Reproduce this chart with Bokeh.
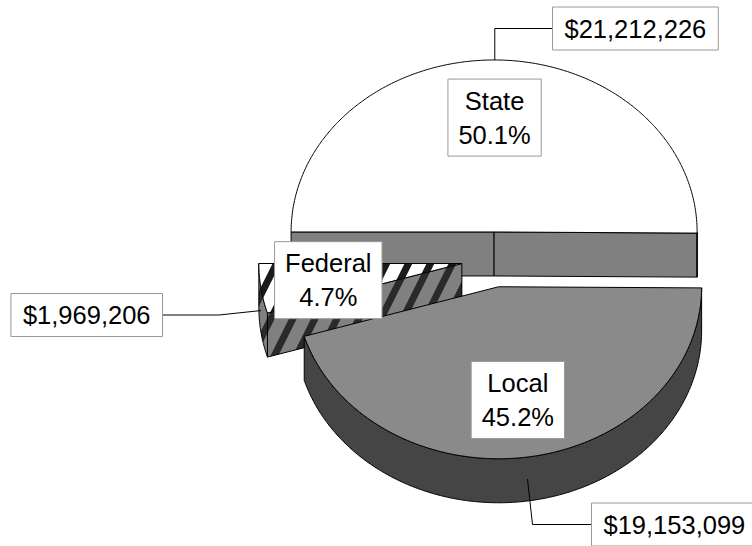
import math
from bokeh.plotting import figure
from bokeh.models import Range1d
from bokeh.embed import file_html
from bokeh.resources import INLINE
from bokeh.core.properties import value

# ---------------- data ----------------
categories = ["State", "Local", "Federal"]
amounts = [21212226, 19153099, 1969206]
amount_labels = ["$21,212,226", "$19,153,099", "$1,969,206"]

# ---------------- layout / style ----------------
W, H = 752, 546
CX, CY = 493.5, 259.0          # pie centre (pixels)
RX, RY = 203.0, 172.0          # ellipse radii of top face
DEPTH = 44.0                   # pie thickness
EXPLODE = 32.5                 # explosion distance
START = 180.0                  # first slice starts at 9 o'clock, clockwise
LABEL_FRAC = 0.665

top_colors = ["#ffffff", "#8a8a8a", "#ffffff"]
side_colors = ["#808080", "#454545", "#808080"]
hatch_on = [False, False, True]

FONT = value("Liberation Sans")
FS = 25.5
LINE_PITCH = 34.0
PAD_X, PAD_Y = 10.5, 9.0

# value label boxes: (x edge, centre y, which edge), leader elbow x-offset
value_box = [(552.0, 28.0, "left"), (591.0, 524.0, "left"), (162.0, 314.5, "right")]
elbow_dx = [0.0, 5.0, -42.0]

CHAR_W = {c: 0.556 for c in "0123456789$"}
CHAR_W.update({",": .278, ".": .278, "%": .889, "S": .667, "t": .278, "a": .556,
               "e": .556, "F": .611, "d": .556, "r": .333, "l": .222, "L": .556,
               "o": .556, "c": .5})


def text_w(s):
    return sum(CHAR_W.get(ch, 0.556) for ch in s) * FS


def pt(cx, cy, a, dy=0.0):
    r = math.radians(a)
    return cx + RX * math.cos(r), cy - RY * math.sin(r) + dy


def arc(cx, cy, a0, a1, dy=0.0):
    n = max(2, int(abs(a0 - a1) / 0.5) + 1)
    out = []
    for i in range(n):
        a = a0 + (a1 - a0) * i / (n - 1)
        out.append(pt(cx, cy, a, dy))
    return out


p = figure(width=W, height=H, output_backend="svg", toolbar_location=None,
           x_range=Range1d(0, W), y_range=Range1d(H, 0), min_border=0,
           x_axis_type=None, y_axis_type=None)
p.grid.visible = False
p.outline_line_color = None
p.background_fill_color = "white"
p.border_fill_color = "white"

total = float(sum(amounts))
shares = [v / total for v in amounts]

slices = []
a = START
for i, s in enumerate(shares):
    a0 = a
    a1 = a - 360.0 * s
    a = a1
    mid = (a0 + a1) / 2.0
    mr = math.radians(mid)
    cx = CX + EXPLODE * math.cos(mr)
    cy = CY - EXPLODE * math.sin(mr) * RY / RX
    slices.append(dict(i=i, a0=a0, a1=a1, mid=mid, cx=cx, cy=cy))

# painter's order: back (smaller y) first
order = sorted(slices, key=lambda d: d["cy"] - RY * math.sin(math.radians(d["mid"])) * 0.5)


def draw_poly(pts, fill, hatch, side):
    xs = [q[0] for q in pts]
    ys = [q[1] for q in pts]
    kw = dict(fill_color=fill, line_color="black", line_width=1)
    if hatch:
        kw.update(hatch_pattern="/", hatch_color="#1a1a1a" if not side else "#2a2a2a",
                  hatch_weight=7, hatch_scale=44)
    p.patch(xs, ys, **kw)


for d in order:
    i = d["i"]
    cx, cy, a0, a1 = d["cx"], d["cy"], d["a0"], d["a1"]
    # radial cut faces
    if math.cos(math.radians(a0)) < 0:
        e = pt(cx, cy, a0)
        draw_poly([(cx, cy), e, (e[0], e[1] + DEPTH), (cx, cy + DEPTH)],
                  side_colors[i], hatch_on[i], True)
    if math.cos(math.radians(a1)) > 0:
        e = pt(cx, cy, a1)
        draw_poly([(cx, cy), e, (e[0], e[1] + DEPTH), (cx, cy + DEPTH)],
                  side_colors[i], hatch_on[i], True)
    # outer rim (lower half only)
    lo, hi = max(a1, -180.0), min(a0, 0.0)
    if hi - lo > 0.05:
        upper = arc(cx, cy, hi, lo)
        lower = arc(cx, cy, lo, hi, DEPTH)
        draw_poly(upper + lower, side_colors[i], hatch_on[i], True)
    # top face
    draw_poly([(cx, cy)] + arc(cx, cy, a0, a1), top_colors[i], hatch_on[i], False)

# ---------------- category / percent labels ----------------
bx_l, bx_r, bx_t, bx_b = [], [], [], []
tx, ty, tt = [], [], []
for d in slices:
    i = d["i"]
    mr = math.radians(d["mid"])
    lx = d["cx"] + LABEL_FRAC * RX * math.cos(mr)
    ly = d["cy"] - LABEL_FRAC * RY * math.sin(mr)
    lines = [categories[i], f"{shares[i] * 100:.1f}%"]
    w = max(text_w(s) for s in lines) + 2 * PAD_X
    h = len(lines) * LINE_PITCH + PAD_Y
    bx_l.append(lx - w / 2); bx_r.append(lx + w / 2)
    bx_t.append(ly - h / 2); bx_b.append(ly + h / 2)
    for k, s in enumerate(lines):
        tx.append(lx)
        ty.append(ly + (k - (len(lines) - 1) / 2) * LINE_PITCH)
        tt.append(s)

# ---------------- value labels with leader lines ----------------
lxs, lys = [], []
for d in slices:
    i = d["i"]
    mid = d["mid"]
    ax, ay = pt(d["cx"], d["cy"], mid)
    if math.sin(math.radians(mid)) < 0:
        ay += DEPTH / 2
    edge_x, bcy, side = value_box[i]
    s = amount_labels[i]
    w = text_w(s) + 2 * 12
    h = LINE_PITCH + PAD_Y
    if side == "left":
        l, r = edge_x, edge_x + w
    else:
        l, r = edge_x - w, edge_x
    bx_l.append(l); bx_r.append(r); bx_t.append(bcy - h / 2); bx_b.append(bcy + h / 2)
    tx.append((l + r) / 2); ty.append(bcy); tt.append(s)
    ex = ax + elbow_dx[i]
    lxs.append([ax, ex, edge_x])
    lys.append([ay, bcy, bcy])

p.multi_line(lxs, lys, line_color="black", line_width=1)
p.quad(left=bx_l, right=bx_r, top=bx_t, bottom=bx_b, fill_color="white",
       line_color="#9a9a9a", line_width=1)
p.text(x=tx, y=ty, text=tt, text_font=FONT, text_font_size=value(f"{FS}px"),
       text_align="center", text_baseline="middle", text_color="black")

open("out.html", "w").write(file_html(p, INLINE))
